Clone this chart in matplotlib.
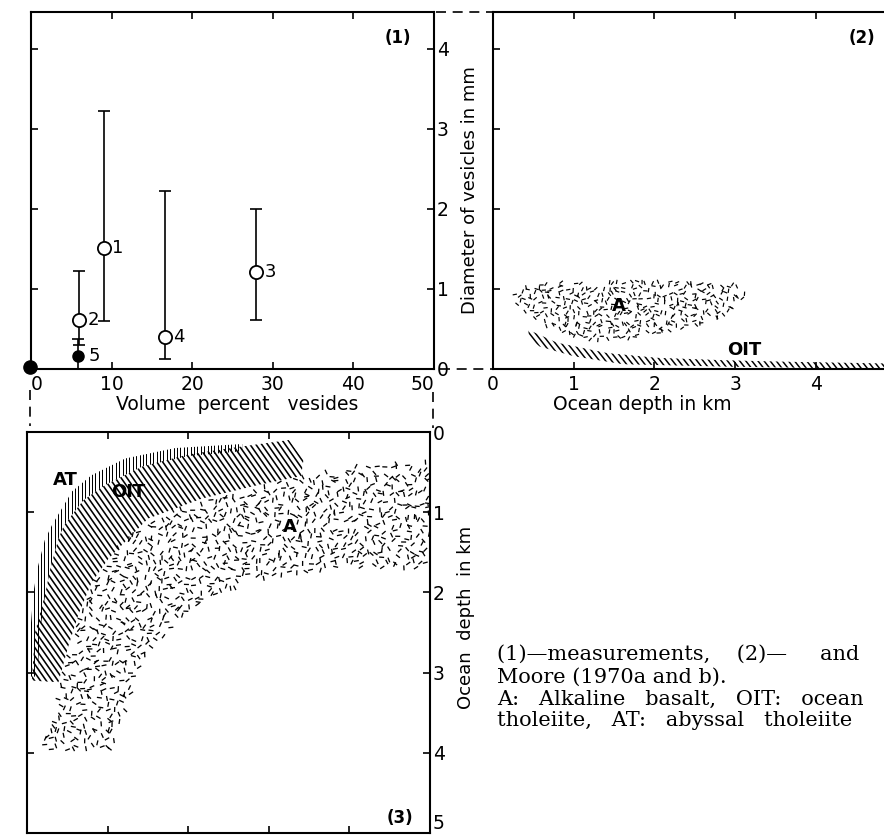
import numpy as np
import matplotlib
matplotlib.use("Agg")
import matplotlib.pyplot as plt
from matplotlib.collections import LineCollection
from matplotlib.patches import Polygon
from matplotlib.path import Path
from matplotlib.lines import Line2D

# ---------------- data : panel (1) measurements ----------------
sample_ids = ["1", "2", "3", "4", "5", "6"]
vol_pct = [9.0, 6.0, 27.9, 16.6, 5.8, -0.1]
diam_mm = [1.51, 0.61, 1.21, 0.40, 0.16, 0.02]
diam_hi = [3.22, 1.23, 2.00, 2.22, 0.37, 0.02]
diam_lo = [0.60, 0.30, 0.61, 0.12, 0.00, 0.02]
is_filled = [False, False, False, False, True, True]
x1_ticks = [0, 10, 20, 30, 40, 50]
y1_ticks = [0, 1, 2, 3, 4]

# ---------------- data : panel (2) diameter vs depth ----------------
alk2_depth = [0.21, 0.38, 1.00, 1.82, 2.65, 3.02, 3.15, 2.85, 2.44, 1.82, 1.33, 0.87, 0.58, 0.33]
alk2_diam = [0.91, 1.05, 1.11, 1.11, 1.10, 1.05, 0.91, 0.66, 0.51, 0.39, 0.35, 0.41, 0.57, 0.74]
oit2_up_depth = [0.44, 0.79, 1.41, 2.03, 2.85, 3.68, 4.83, 5.30]
oit2_up_diam = [0.49, 0.33, 0.20, 0.14, 0.11, 0.09, 0.07, 0.06]
oit2_lo_depth = [5.30, 4.83, 2.85, 1.61, 1.00, 0.58, 0.44]
oit2_lo_diam = [0.00, 0.00, 0.03, 0.06, 0.16, 0.28, 0.39]
x2_ticks = [0, 1, 2, 3, 4]

# ---------------- data : panel (3) depth vs volume percent ----------------
at_out_x = [0.4, 0.4, 0.8, 1.3, 2.2, 3.1, 5.6, 8.0, 12.2, 18.4, 26.7]
at_out_d = [3.05, 2.5, 2.0, 1.7, 1.35, 1.16, 0.74, 0.54, 0.33, 0.20, 0.15]
at_in_x = [26.7, 20.0, 14.3, 9.7, 7.0, 4.6, 3.9, 2.9, 2.3, 1.6, 1.3]
at_in_d = [0.24, 0.30, 0.43, 0.66, 0.85, 1.16, 1.33, 1.70, 2.00, 2.50, 3.05]

oit_out_x = [0.6, 1.0, 2.3, 2.9, 3.9, 4.6, 7.0, 9.7, 14.3, 20.0, 26.7, 32.5, 34.3]
oit_out_d = [3.10, 2.50, 2.00, 1.70, 1.33, 1.16, 0.85, 0.66, 0.43, 0.28, 0.18, 0.10, 0.35]
oit_in_x = [34.0, 28.7, 21.7, 15.0, 10.1, 8.0, 6.4, 5.1, 3.9]
oit_in_d = [0.55, 0.66, 0.83, 1.08, 1.58, 1.88, 2.27, 2.68, 3.12]

alk3_out_x = [1.8, 3.2, 3.85, 5.6, 7.4, 10.3, 14.0, 19.0, 24.8, 32.3, 40.0, 50.0]
alk3_out_d = [3.97, 3.47, 3.22, 2.64, 1.97, 1.52, 1.18, 0.93, 0.77, 0.60, 0.43, 0.35]
alk3_in_x = [50.0, 42.2, 36.0, 29.8, 23.6, 19.9, 16.1, 14.0, 12.8, 11.5, 10.7]
alk3_in_d = [1.72, 1.68, 1.73, 1.81, 2.02, 2.23, 2.64, 2.93, 3.30, 3.68, 3.97]
y3_ticks = [0, 1, 2, 3, 4, 5]

# caption (justified lines run on past the right edge, as in the source)
caption_lines = [
    "(1)\u2014measurements,    (2)\u2014     and",
    "Moore (1970a and b).",
    "A:   Alkaline   basalt,   OIT:   ocean",
    "tholeiite,   AT:   abyssal   tholeiite",
]
caption_y = [654, 677, 699, 721]

# ---------------- figure ----------------
W, H = 884, 839
fig = plt.figure(figsize=(W / 100, H / 100), dpi=100)
plt.rcParams["font.family"] = ["DejaVu Sans"]


def box(l, t, r, b):
    return [l / W, 1 - b / H, (r - l) / W, (b - t) / H]


def fx(px):
    return px / W


def fy(py):
    return 1 - py / H


def style(ax):
    for s in ax.spines.values():
        s.set_linewidth(1.5)
    ax.tick_params(direction="in", length=5, width=1.2, labelsize=13.5, pad=3)


def hash01(a, b, k):
    v = np.sin(a * 127.1 + b * 311.7 + k * 74.7) * 43758.5453
    return v - np.floor(v)


def speckle(ax, xs, ys, spacing=7.0, length=5.0, lw=1.3):
    T = ax.transData
    pts = T.transform(np.column_stack([xs, ys]))
    path = Path(pts)
    x0, y0 = pts.min(0)
    x1, y1 = pts.max(0)
    ni = int((x1 - x0) / spacing) + 1
    nj = int((y1 - y0) / spacing) + 1
    I, J = np.meshgrid(np.arange(ni), np.arange(nj))
    I = I.ravel().astype(float)
    J = J.ravel().astype(float)
    cx = x0 + (I + hash01(I, J, 1.0)) * spacing
    cy = y0 + (J + hash01(I, J, 2.0)) * spacing
    ang = hash01(I, J, 3.0) * np.pi
    keep = path.contains_points(np.column_stack([cx, cy]))
    cx, cy, ang = cx[keep], cy[keep], ang[keep]
    dx = 0.5 * length * np.cos(ang)
    dy = 0.5 * length * np.sin(ang)
    inv = T.inverted()
    p0 = inv.transform(np.column_stack([cx - dx, cy - dy]))
    p1 = inv.transform(np.column_stack([cx + dx, cy + dy]))
    lc = LineCollection(np.stack([p0, p1], axis=1), colors="black",
                        linewidths=lw * 0.72, capstyle="butt")
    ax.add_collection(lc, autolim=False)


def hatch(ax, xs, ys, angle, spacing, lw):
    T = ax.transData
    poly = Polygon(np.column_stack([xs, ys]), closed=True, transform=T,
                   fill=False, edgecolor="none")
    ax.add_patch(poly)
    pts = T.transform(np.column_stack([xs, ys]))
    x0, y0 = pts.min(0)
    x1, y1 = pts.max(0)
    c = np.array([(x0 + x1) / 2, (y0 + y1) / 2])
    R = np.hypot(x1 - x0, y1 - y0) / 2 + 3
    th = np.deg2rad(angle)
    d = np.array([np.cos(th), np.sin(th)])
    nrm = np.array([-d[1], d[0]])
    k = np.arange(-int(R / spacing) - 2, int(R / spacing) + 3)
    cen = c + np.outer(k * spacing, nrm)
    inv = T.inverted()
    p0 = inv.transform(cen - R * d)
    p1 = inv.transform(cen + R * d)
    lc = LineCollection(np.stack([p0, p1], axis=1), colors="black",
                        linewidths=lw * 0.72, capstyle="butt")
    lc.set_clip_path(poly)
    ax.add_collection(lc, autolim=False)


# ---------------- panel (1) ----------------
ax1 = fig.add_axes(box(31, 12, 434, 369))
ax1.set_xlim(0, 50)
ax1.set_ylim(0, 357 / 80)
style(ax1)
ax1.set_xticks(x1_ticks)
ax1.set_xticklabels([str(t) for t in x1_ticks])
labs = ax1.get_xticklabels()
labs[0].set_horizontalalignment("left")
labs[-1].set_horizontalalignment("right")
ax1.set_yticks(y1_ticks)
ax1.xaxis.set_ticks_position("both")
ax1.yaxis.set_ticks_position("both")
ax1.tick_params(axis="y", labelleft=False, labelright=True, pad=2)
ax1.tick_params(axis="x", labeltop=False, pad=4)

for i in range(len(sample_ids)):
    x, y = vol_pct[i], diam_mm[i]
    if diam_hi[i] != diam_lo[i]:
        ax1.errorbar([x], [y], yerr=[[y - diam_lo[i]], [diam_hi[i] - y]],
                     fmt="none", ecolor="black", elinewidth=1.2, capsize=4,
                     capthick=1.2, clip_on=False, zorder=2)
    if is_filled[i]:
        ms = 8 if sample_ids[i] == "5" else 9.5
        ax1.plot([x], [y], "o", ms=ms, mfc="black", mec="black",
                 clip_on=False, zorder=4)
    else:
        ax1.plot([x], [y], "o", ms=9.5, mfc="white", mec="black", mew=1.3,
                 clip_on=False, zorder=4)
    if sample_ids[i] == "6":
        off = (6, 6)
    elif sample_ids[i] == "5":
        off = (8, 0)
    else:
        off = (6, 0)
    ax1.annotate(sample_ids[i], (x, y), xytext=off, textcoords="offset points",
                 ha="left", va="center", fontsize=13, zorder=5)

fig.text(fx(398), fy(38), "(1)", ha="center", va="center", fontsize=12,
         fontweight="bold")
fig.text(fx(237), fy(405), "Volume  percent   vesides", ha="center",
         va="center", fontsize=13.5)

# ---------------- panel (2) ----------------
ax2 = fig.add_axes(box(493, 12, 913, 369))
ax2.set_xlim(0, 420 / 80.7)
ax2.set_ylim(0, 357 / 80)
style(ax2)
ax2.spines["right"].set_visible(False)
ax2.set_xticks(x2_ticks)
ax2.set_yticks([1, 2, 3, 4])
ax2.xaxis.set_ticks_position("both")
ax2.tick_params(axis="x", labeltop=False, pad=4)
ax2.tick_params(axis="y", labelleft=False)
speckle(ax2, alk2_depth, alk2_diam, spacing=5.6, length=4.3, lw=1.2)
hatch(ax2, oit2_up_depth + oit2_lo_depth, oit2_up_diam + oit2_lo_diam,
      angle=-52, spacing=4.8, lw=1.5)
ax2.text(1.56, 0.79, "A", ha="center", va="center", fontsize=13,
         fontweight="bold", zorder=5)
ax2.text(3.11, 0.24, "OIT", ha="center", va="center", fontsize=13,
         fontweight="bold", zorder=5)
fig.text(fx(862), fy(38), "(2)", ha="center", va="center", fontsize=12,
         fontweight="bold")
fig.text(fx(642), fy(405), "Ocean depth in km", ha="center", va="center",
         fontsize=13.5)
fig.text(fx(470), fy(190), "Diameter of vesicles in mm", ha="center",
         va="center", rotation=90, fontsize=13)

# ---------------- panel (3) ----------------
ax3 = fig.add_axes(box(27, 432, 430, 833))
ax3.set_xlim(0, 50)
ax3.set_ylim(5, 0)
style(ax3)
ax3.set_xticks([10, 20, 30, 40])
ax3.set_yticks(y3_ticks)
ax3.xaxis.set_ticks_position("both")
ax3.yaxis.set_ticks_position("both")
ax3.tick_params(axis="x", labelbottom=False, labeltop=False)
ax3.tick_params(axis="y", labelleft=False, labelright=True, pad=2)
ax3.get_yticklabels()[-1].set_verticalalignment("bottom")
speckle(ax3, alk3_out_x + alk3_in_x, alk3_out_d + alk3_in_d,
        spacing=6.8, length=5.0, lw=1.3)
hatch(ax3, oit_out_x + oit_in_x, oit_out_d + oit_in_d,
      angle=-55, spacing=4.8, lw=1.6)
hatch(ax3, at_out_x + at_in_x, at_out_d + at_in_d,
      angle=90, spacing=3.4, lw=1.0)
ax3.text(4.8, 0.6, "AT", ha="center", va="center", fontsize=13,
         fontweight="bold", zorder=5)
ax3.text(12.5, 0.75, "OIT", ha="center", va="center", fontsize=13,
         fontweight="bold", zorder=5)
ax3.text(32.6, 1.19, "A", ha="center", va="center", fontsize=13,
         fontweight="bold", zorder=5)
fig.text(fx(400), fy(818), "(3)", ha="center", va="center", fontsize=12,
         fontweight="bold")
fig.text(fx(466), fy(617), "Ocean  depth  in km", ha="center", va="center",
         rotation=90, fontsize=13)

# ---------------- connecting dashed guides ----------------
dash_kw = dict(color="black", lw=1.2, ls=(0, (6, 4)), transform=fig.transFigure)
fig.add_artist(Line2D([fx(436), fx(493)], [fy(12), fy(12)], **dash_kw))
fig.add_artist(Line2D([fx(440), fx(493)], [fy(369), fy(369)], **dash_kw))
fig.add_artist(Line2D([fx(30), fx(30)], [fy(390), fy(426)], **dash_kw))
fig.add_artist(Line2D([fx(433), fx(433)], [fy(392), fy(428)], **dash_kw))

# ---------------- caption ----------------
for line, py in zip(caption_lines, caption_y):
    fig.text(fx(497), fy(py), line, ha="left", va="center",
             fontsize=15, family=["DejaVu Serif"])

fig.savefig("out.png", dpi=100)
